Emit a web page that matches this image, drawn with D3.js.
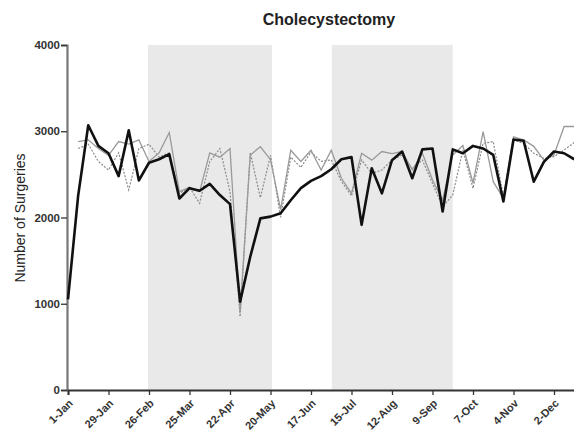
<!DOCTYPE html>
<html>
<head>
<meta charset="utf-8">
<script src="https://cdn.jsdelivr.net/npm/d3@7/dist/d3.min.js"></script>
<style>
  html, body { margin: 0; padding: 0; background: #fff; }
  svg { display: block; font-family: "Liberation Sans", Arial, Helvetica, sans-serif; }
</style>
</head>
<body>
<svg id="chart" width="574" height="433"></svg>
<script>
// Weekly cholecystectomy counts; week 0 = 1-Jan
const weekTicks = [0, 4, 8, 12, 16, 20, 24, 28, 32, 36, 40, 44, 48];
const weekLabels = ["1-Jan", "29-Jan", "26-Feb", "25-Mar", "22-Apr", "20-May", "17-Jun",
                    "15-Jul", "12-Aug", "9-Sep", "7-Oct", "4-Nov", "2-Dec"];
const yTicks = [0, 1000, 2000, 3000, 4000];

// Shaded periods (in weeks)
const shadeStart = [7.9, 26.05];
const shadeEnd = [20.15, 38.0];

// Current year (thick black)
const seriesMain = [1050, 2250, 3070, 2830, 2745, 2480, 3010, 2430, 2635, 2675,
                    2735, 2220, 2340, 2310, 2390, 2260, 2155, 1025, 1545, 1990,
                    2010, 2050, 2200, 2340, 2425, 2480, 2560, 2675, 2700, 1915,
                    2570, 2280, 2665, 2765, 2455, 2790, 2800, 2070, 2790, 2745,
                    2830, 2800, 2725, 2185, 2905, 2890, 2415, 2645, 2765, 2745, 2675];

// Comparison year (thin grey solid)
const seriesGrey = [null, 2880, 2900, 2800, 2720, 2880, 2850, 2900, 2650, 2750,
                    2985, 2300, 2350, 2300, 2750, 2700, 2800, 900, 2725, 2820,
                    2670, 2090, 2780, 2650, 2780, 2550, 2780, 2455, 2280, 2745,
                    2665, 2765, 2740, 2765, 2550, 2745, 2435, 2200, 2725, 2835,
                    2400, 2995, 2415, 2220, 2935, 2900, 2825, 2665, 2725, 3055, 3055];

// Comparison year (thin dotted)
const seriesDotted = [null, 2800, 2850, 2650, 2550, 2750, 2320, 2800, 2850, 2700,
                      2750, 2280, 2350, 2165, 2650, 2800, 2300, 850, 2750, 2230,
                      2720, 2000, 2700, 2580, 2760, 2650, 2667, 2420, 2250, 2667,
                      2512, 2550, 2667, 2725, 2570, 2667, 2396, 2126, 2261, 2783,
                      2338, 2860, 2880, 2242, 2899, 2860, 2744, 2686, 2705, 2783, 2870];

const svg = d3.select("#chart");

const x = d3.scaleLinear().domain([0, 52]).range([68, 594.5]);
const y = d3.scaleLinear().domain([0, 4000]).range([390, 45]);

// Shaded bands
svg.append("g").selectAll("rect")
  .data(shadeStart.map((s, i) => [s, shadeEnd[i]]))
  .join("rect")
  .attr("x", d => x(d[0]))
  .attr("width", d => x(d[1]) - x(d[0]))
  .attr("y", y(4000))
  .attr("height", y(0) - y(4000))
  .attr("fill", "#e9e9e9");

// Title
svg.append("text")
  .attr("x", 329).attr("y", 25)
  .attr("text-anchor", "middle")
  .attr("font-size", 16).attr("font-weight", "bold")
  .attr("fill", "#222")
  .text("Cholecystectomy");

// Y axis
const yAxis = svg.append("g")
  .attr("transform", `translate(${x(0) - 1},0)`)
  .call(d3.axisLeft(y).tickValues(yTicks).tickSize(6).tickPadding(1).tickFormat(d3.format("d")));
yAxis.select(".domain").attr("stroke", "#777").attr("stroke-width", 2.2);
yAxis.selectAll(".tick line").attr("stroke", "#333").attr("stroke-width", 1.3);
yAxis.selectAll(".tick text")
  .attr("font-size", 11.5).attr("font-weight", "bold").attr("fill", "#333")
  .attr("font-family", "'Liberation Sans', Arial, sans-serif");

svg.append("text")
  .attr("transform", `translate(25,218) rotate(-90)`)
  .attr("text-anchor", "middle")
  .attr("font-size", 14).attr("fill", "#222")
  .text("Number of Surgeries");

// X axis
const xAxis = svg.append("g")
  .attr("transform", `translate(0,${y(0)})`)
  .call(d3.axisBottom(x).tickValues(weekTicks).tickSize(5)
        .tickFormat((d, i) => weekLabels[i]));
xAxis.select(".domain").attr("stroke", "#333").attr("stroke-width", 2);
xAxis.selectAll(".tick line").attr("stroke", "#333").attr("stroke-width", 1.3);
xAxis.selectAll(".tick text")
  .attr("font-size", 11).attr("font-weight", "bold").attr("fill", "#333")
  .attr("font-family", "'Liberation Sans', Arial, sans-serif")
  .attr("text-anchor", "end")
  .attr("dy", null)
  .attr("y", 0)
  .attr("transform", "translate(5,14) rotate(-45)");

// Lines
const line = d3.line()
  .defined(d => d != null)
  .x((d, i) => x(i))
  .y(d => y(d));

svg.append("path")
  .datum(seriesDotted)
  .attr("fill", "none")
  .attr("stroke", "#8a8a8a")
  .attr("stroke-width", 1.2)
  .attr("stroke-dasharray", "2,1.5")
  .attr("d", line);

svg.append("path")
  .datum(seriesGrey)
  .attr("fill", "none")
  .attr("stroke", "#9a9a9a")
  .attr("stroke-width", 1.3)
  .attr("d", line);

svg.append("path")
  .datum(seriesMain)
  .attr("fill", "none")
  .attr("stroke", "#111")
  .attr("stroke-width", 2.6)
  .attr("stroke-linejoin", "round")
  .attr("d", line);
</script>
</body>
</html>
